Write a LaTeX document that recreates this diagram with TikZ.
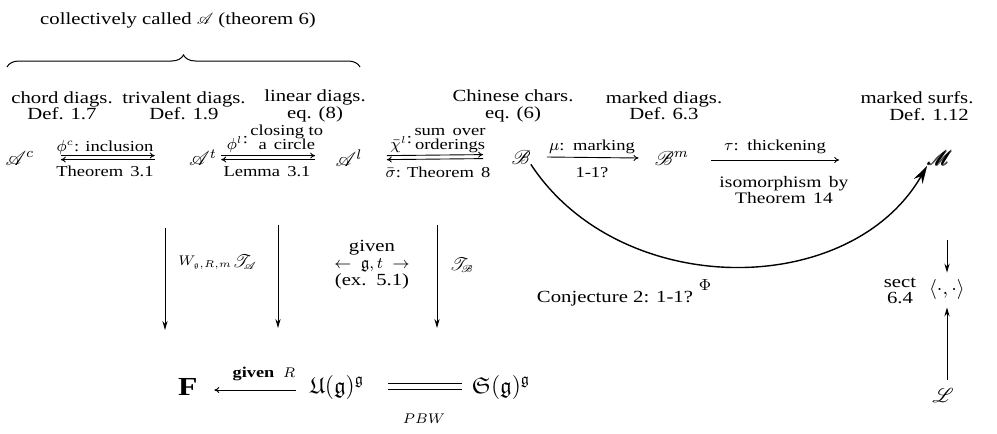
\documentclass[tikz,border=0pt]{standalone}
\usepackage{amsmath,amssymb}
\usepackage{mathrsfs}
\usepackage{fontspec}
\setmainfont{Liberation Serif}[FakeStretch=1.22]
\usetikzlibrary{arrows.meta, positioning, calc, decorations.pathreplacing}

\begin{document}
\begin{tikzpicture}[
  x=0.5pt, y=-0.5pt,
  font=\fontsize{7.6}{8.5}\selectfont,
  oggetto/.style={inner sep=0pt, font=\fontsize{10}{10}\selectfont},
  voce/.style={inner sep=0pt, align=center},
  freccia/.style={draw=black, line width=0.5pt, -{Stealth[length=4.5pt,width=2.6pt]}},
  sottile/.style={draw=black, line width=0.45pt, -{To[length=2.5pt,width=3pt]}},
  grande/.style={draw=black, line width=0.7pt, -{Stealth[length=9pt,width=5pt]}}
]
\useasboundingbox (0,0) rectangle (997,434);

% ---- intestazione -----------------------------------------------------
\node[voce, anchor=base, font=\fontsize{8.5}{9}\selectfont] (titolo) at (178,24)
  {collectively called $\mathscr{A}$ (theorem 6)};
\draw[decorate, decoration={brace, amplitude=6pt}, line width=0.5pt] (7,67) -- (360,67);

\foreach \nome/\X/\testo in {%
  chord/62/{chord diags.\\Def. 1.7},
  trival/184/{trivalent diags.\\Def. 1.9},
  linear/315/{linear diags.\\eq. (8)},
  chinese/513/{Chinese chars.\\eq. (6)},
  mdiags/664/{marked diags.\\Def. 6.3},
  msurfs/917/{marked surfs.\\\hspace*{12pt}Def. 1.12}} {
  \node[voce, font=\fontsize{8.5}{8.2}\selectfont] (\nome) at (\X,106) {\testo};
}

%==============================================================
% riga principale
%==============================================================
\node[oggetto] (Ac) at (20,158) {$\mathscr{A}^c$};
\node[oggetto] (At) at (203,158) {$\mathscr{A}^t$};
\node[oggetto] (Al) at (349,158) {$\mathscr{A}^l$};
\node[oggetto] (B)  at (521,157) {$\mathscr{B}$};
\node[oggetto] (Bm) at (672,158) {$\mathscr{B}^m$};
\node[oggetto] (M)  at (940,158) {$\pmb{\mathscr{M}}$};

% frecce doppie
\draw[sottile] ([xshift=13pt,yshift=1.2pt]Ac.east) -- ([xshift=-17pt,yshift=1.2pt]At.west);
\draw[sottile] ([xshift=-17pt,yshift=-0.8pt]At.west) -- ([xshift=13pt,yshift=-0.8pt]Ac.east);
\draw[sottile] ([xshift=2pt,yshift=1.2pt]At.east) -- ([xshift=-10pt,yshift=1.2pt]Al.west);
\draw[sottile] ([xshift=-10pt,yshift=-0.8pt]Al.west) -- ([xshift=2pt,yshift=-0.8pt]At.east);
\draw[sottile] ([xshift=12pt,yshift=1.2pt]Al.east) -- ([xshift=-14pt,yshift=1.2pt]B.west);
\draw[sottile] ([xshift=-14pt,yshift=-0.8pt]B.west) -- ([xshift=12pt,yshift=-0.8pt]Al.east);
\draw[sottile] ([xshift=8pt]B.east) -- ([xshift=-8pt]Bm.west);
\draw[sottile] ([xshift=11pt,yshift=-1pt]Bm.east) -- ([xshift=-44pt,yshift=-1pt]M.west);

% etichette delle frecce
\node[voce, anchor=base] (incl) at (105,151) {$\phi^c$: inclusion};
\node[voce, anchor=base] (th31) at (105,176) {Theorem\, 3.1};
\node[voce, anchor=south] (close) at (275,155)
  {$\phi^l$\raisebox{3pt}{:}\,\begin{tabular}[b]{@{}c@{}}closing to\\[-1.5pt] a\, circle\end{tabular}};
\node[voce, anchor=base] (lem31) at (267,176) {Lemma\, 3.1};
\node[voce, anchor=south] (somma) at (438,155)
  {$\bar\chi^l$\raisebox{3pt}{:}\,\begin{tabular}[b]{@{}c@{}}sum\, over\\[-1.5pt] orderings\end{tabular}};
\node[voce, anchor=base] (th8) at (438,177) {$\bar\sigma$: Theorem\, 8};
\node[voce, anchor=base] (mark) at (592,150) {$\mu$:\, marking};
\node[voce, anchor=base] (uno) at (592,177) {1-1?};
\node[voce, anchor=base] (thick) at (775,150) {$\tau$:\, thickening};
\node[voce, anchor=north, font=\fontsize{8}{8}\selectfont] (iso) at (784,176) {isomorphism\, by\\Theorem\, 14};

% freccia curva
\draw[grande] (B.south east) .. controls (620,300) and (850,300) .. (M.south west);
\node[voce, font=\fontsize{8.5}{9}\selectfont] (Phi) at (705,285) {$\Phi$};
\node[voce, font=\fontsize{8.5}{9}\selectfont] (conj) at (615,299) {Conjecture 2: 1-1?};

%==============================================================
% frecce verticali
%==============================================================
\coordinate (Wtop) at (165,228);
\coordinate (Wbot) at (165,330);
\coordinate (TAtop) at (278,225);
\coordinate (TAbot) at (278,328);
\coordinate (TBtop) at (437,225);
\coordinate (TBbot) at (437,328);
\draw[freccia] (Wtop) -- (Wbot);
\draw[freccia] (TAtop) -- (TAbot);
\draw[freccia] (TBtop) -- (TBbot);
\node[voce, anchor=west, font=\fontsize{7.5}{8}\selectfont] (W) at (178,263) {$W_{\scriptscriptstyle\mathfrak{g},R,m}$};
\node[voce, font=\fontsize{9}{9}\selectfont] (TA) at (245,262) {$\mathscr{T}_{\!\scriptscriptstyle\mathscr{A}}$};
\node[voce, font=\fontsize{9}{9}\selectfont] (TB) at (462,265) {$\mathscr{T}_{\!\scriptscriptstyle\mathscr{B}}$};
\node[voce, font=\fontsize{8.5}{8.5}\selectfont] (dato) at (372,265)
  {given\\$\leftarrow$\;\;$\mathfrak{g}, t$\;\;$\rightarrow$\\(ex.\, 5.1)};

% accoppiamento
\coordinate (Mgiu) at (947,240);
\node[oggetto] (pair) at (947,289) {$\langle\cdot,\cdot\rangle$};
\node[voce, font=\fontsize{8.5}{8}\selectfont] (sect) at (900,291) {sect\\6.4};
\node[oggetto] (L) at (943,395) {$\mathscr{L}$};
\draw[freccia] (Mgiu) -- ([yshift=3pt]pair.north);
\draw[freccia] (pair.south |- L.north) ++(0,-8) -- ([yshift=-4pt]pair.south);

%==============================================================
% riga inferiore
%==============================================================
\node[oggetto, font=\fontsize{13}{13}\selectfont] (F) at (186,387) {$\mathbf{F}$};
\node[oggetto, font=\fontsize{11.5}{12}\selectfont] (U) at (337,387) {$\mathfrak{U}(\mathfrak{g})^{\mathfrak{g}}$};
\node[oggetto, font=\fontsize{11.5}{12}\selectfont] (S) at (501,387) {$\mathfrak{S}(\mathfrak{g})^{\mathfrak{g}}$};
\draw[sottile] ([xshift=-7pt,yshift=-1.5pt]U.west) -- ([xshift=10pt,yshift=-1.5pt]F.east);
\node[voce, anchor=base, font=\fontsize{7.5}{8}\selectfont] (datoR) at (264,377) {\textbf{given}\; $R$};
\draw[line width=0.45pt] ([xshift=12pt,yshift=2pt]U.east) -- ([xshift=-5pt,yshift=2pt]S.west);
\draw[line width=0.45pt] ([xshift=12pt,yshift=-1pt]U.east) -- ([xshift=-5pt,yshift=-1pt]S.west);
\node[voce, font=\fontsize{7.5}{8}\selectfont] (pbw) at (424,419) {$PBW$};

\end{tikzpicture}
\end{document}
